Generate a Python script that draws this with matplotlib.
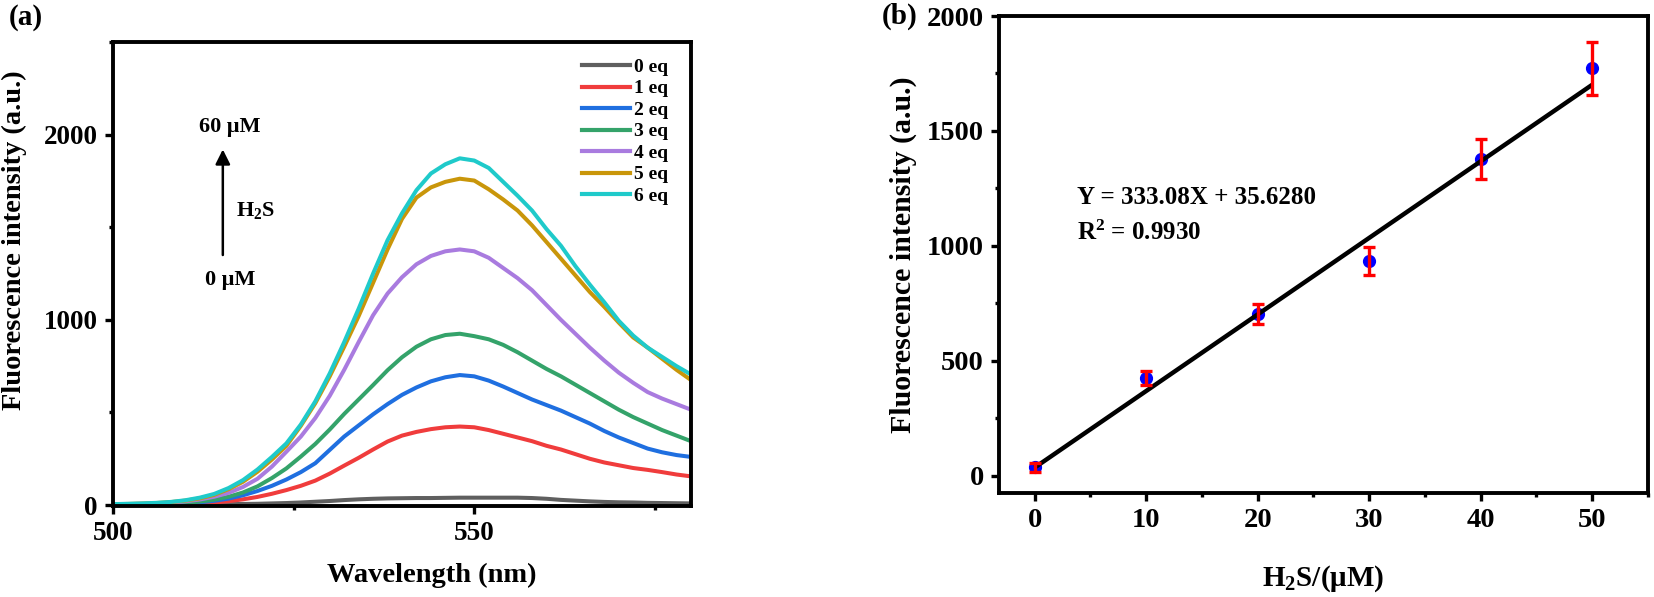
import matplotlib
matplotlib.use("Agg")
import matplotlib.pyplot as plt
from matplotlib.ticker import MultipleLocator

plt.rcParams['font.family'] = ['Liberation Serif', 'DejaVu Serif']
plt.rcParams['font.weight'] = 'bold'
plt.rcParams['mathtext.fontset'] = 'custom'
plt.rcParams['mathtext.rm'] = 'Liberation Serif:bold'
plt.rcParams['mathtext.it'] = 'Liberation Serif:italic:bold'
plt.rcParams['mathtext.bf'] = 'Liberation Serif:bold'

# ---------------- Panel (a) data ----------------
wavelength = list(range(500, 582, 2))
eq0 = [0, 0, 1, 1, 2, 2, 3, 4, 5, 6, 7, 9, 11, 14, 18, 22, 27, 31, 34, 36, 37,
       38, 38, 39, 40, 40, 40, 40, 40, 38, 34, 28, 24, 20, 17, 15, 14, 12, 11, 10, 9]
eq1 = [1, 2, 3, 4, 5, 7, 10, 14, 21, 31, 44, 61, 81, 104, 132, 170, 213, 255, 300, 343, 375,
       395, 410, 420, 424, 420, 405, 385, 365, 345, 320, 300, 275, 250, 230, 215, 200, 190, 178, 165, 155]
eq2 = [2, 3, 4, 5, 7, 10, 15, 23, 35, 53, 76, 104, 138, 178, 226, 298, 370, 430, 490, 545, 595,
       635, 668, 690, 702, 695, 672, 640, 605, 570, 540, 510, 475, 440, 400, 365, 335, 305, 285, 270, 260]
eq3 = [3, 4, 5, 7, 9, 13, 19, 29, 45, 68, 101, 146, 198, 262, 330, 408, 492, 570, 648, 728, 798,
       855, 895, 918, 925, 912, 895, 865, 825, 780, 735, 695, 650, 605, 560, 515, 475, 440, 405, 375, 345]
eq4 = [4, 5, 7, 9, 13, 20, 30, 45, 66, 98, 142, 208, 288, 370, 470, 590, 730, 880, 1025, 1142, 1230,
       1300, 1345, 1370, 1380, 1370, 1335, 1280, 1225, 1160, 1080, 1000, 925, 850, 780, 715, 660, 610, 575, 545, 515]
eq5 = [5, 6, 8, 11, 16, 24, 36, 55, 86, 126, 180, 246, 320, 428, 550, 695, 855, 1020, 1200, 1380, 1545,
       1660, 1715, 1745, 1762, 1752, 1705, 1650, 1590, 1510, 1420, 1330, 1240, 1150, 1070, 985, 905, 850, 790, 730, 675]
eq6 = [5, 7, 9, 12, 17, 26, 40, 60, 92, 135, 192, 260, 333, 435, 560, 711, 880, 1060, 1250, 1430, 1575,
       1700, 1790, 1840, 1872, 1860, 1820, 1745, 1670, 1590, 1490, 1400, 1290, 1190, 1095, 995, 915, 850, 800, 750, 705]
series_labels = ['0 eq', '1 eq', '2 eq', '3 eq', '4 eq', '5 eq', '6 eq']
series_colors = ['#5f5f5f', '#f03c3c', '#1f6fe0', '#34a36a', '#a97bdf', '#c9960a', '#1fcaca']

# ---------------- Panel (b) data ----------------
conc = [0, 10, 20, 30, 40, 50]
intensity = [36, 425, 704, 934, 1377, 1773]
err = [20, 30, 45, 61, 88, 116]
fit_slope = 33.308      # per µM (333.08 per 10 µM)
fit_intercept = 35.628
fit_x = [0, 50]

W, H = 1654, 597
fig = plt.figure(figsize=(W / 100, H / 100), dpi=100)

# ---------- panel (a) ----------
ax1 = fig.add_axes([113 / W, 1 - 506 / H, (691 - 113) / W, (506 - 42) / H])
data = [eq0, eq1, eq2, eq3, eq4, eq5, eq6]
for ys, lab, col in zip(data, series_labels, series_colors):
    ax1.plot(wavelength, ys, color=col, lw=2.9, label=lab, solid_joinstyle='round')
ax1.set_xlim(500, 580)
ax1.set_ylim(-5, 2500)
ax1.xaxis.set_major_locator(MultipleLocator(50))
ax1.xaxis.set_minor_locator(MultipleLocator(25))
ax1.yaxis.set_major_locator(MultipleLocator(1000))
ax1.yaxis.set_minor_locator(MultipleLocator(500))
leg = ax1.legend(loc='upper right', bbox_to_anchor=(0.96, 0.965), frameon=False,
                 fontsize=14, handlelength=2.45, handletextpad=0.2, labelspacing=0.2,
                 borderpad=0, borderaxespad=0)
for line in leg.get_lines():
    line.set_linewidth(3.0)
ax1.annotate('', xy=(515.2, 1935), xytext=(515.2, 1335),
             arrowprops=dict(arrowstyle='-|>', color='black', lw=1.8, mutation_scale=22))
ax1.text(516.2, 2040, '60 μM', fontsize=16, fontweight='bold', ha='center', va='center')
ax1.text(519.8, 1590, 'H$_2$S', fontsize=16, fontweight='bold', ha='center', va='center')
ax1.text(516.2, 1215, '0 μM', fontsize=16, fontweight='bold', ha='center', va='center')
ax1.set_xlabel('Wavelength (nm)', fontsize=20.5, fontweight='bold')
ax1.set_ylabel('Fluorescence intensity (a.u.)', fontsize=20.5, fontweight='bold')
ax1.xaxis.set_label_coords(0.552, -0.123)
ax1.yaxis.set_label_coords(-0.149, 0.573)
for lab in ax1.get_xticklabels() + ax1.get_yticklabels():
    lab.set_fontsize(19.5)
    lab.set_fontweight('bold')

# ---------- panel (b) ----------
ax2 = fig.add_axes([999 / W, 1 - 493 / H, (1648 - 999) / W, (493 - 16) / H])
line_y = [fit_slope * x + fit_intercept for x in fit_x]
ax2.plot(fit_x, line_y, color='black', lw=3.2, zorder=3, solid_capstyle='butt')
ax2.errorbar(conc, intensity, yerr=err, fmt='none', ecolor='#ff0000', elinewidth=2.4,
             capsize=4.5, capthick=2.4, zorder=4)
ax2.plot(conc, intensity, 'o', color='#0000ff', markersize=8.5, zorder=2)
ax2.set_xlim(-3.2, 55)
ax2.set_ylim(-75, 2000)
ax2.xaxis.set_major_locator(MultipleLocator(10))
ax2.xaxis.set_minor_locator(MultipleLocator(5))
ax2.yaxis.set_major_locator(MultipleLocator(500))
ax2.yaxis.set_minor_locator(MultipleLocator(250))
ax2.text(3.8, 1209, 'Y = 333.08X + 35.6280', fontsize=18, fontweight='bold', ha='left', va='center')
ax2.text(3.8, 1056, 'R$^2$ = 0.9930', fontsize=18, fontweight='bold', ha='left', va='center')
ax2.set_xlabel('H$_2$S/(μM)', fontsize=21, fontweight='bold')
ax2.set_ylabel('Fluorescence intensity (a.u.)', fontsize=21.5, fontweight='bold')
ax2.xaxis.set_label_coords(0.5, -0.147)
ax2.yaxis.set_label_coords(-0.126, 0.5)
for lab in ax2.get_xticklabels() + ax2.get_yticklabels():
    lab.set_fontsize(20.5)
    lab.set_fontweight('bold')

for ax in (ax1, ax2):
    for sp in ax.spines.values():
        sp.set_linewidth(2.8)
    ax.tick_params(which='major', direction='out', length=5.5, width=2.4, top=False, right=False)
    ax.tick_params(which='minor', direction='out', length=3, width=2.4, top=False, right=False)
    ax.tick_params(axis='x', which='major', pad=5)
    ax.tick_params(axis='y', which='major', pad=5.5)

fig.text(9 / W, 1 - 4 / H, '(a)', fontsize=21, fontweight='bold', ha='left', va='top')
fig.text(882 / W, 1 - 3 / H, '(b)', fontsize=21, fontweight='bold', ha='left', va='top')

fig.savefig('out.png', dpi=100)
